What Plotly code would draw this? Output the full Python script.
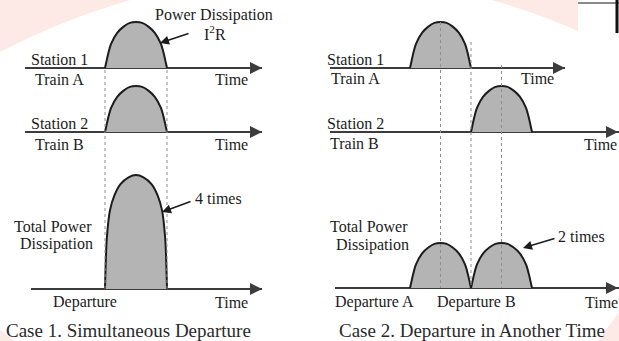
import plotly.graph_objects as go

W, H = 619, 341

# ---- data -------------------------------------------------------------
# Shape of one train's power draw I²R over its acceleration period
# (fraction of the period, fraction of the peak)
pulse_t = [0, 0.02, 0.05, 0.1, 0.2, 0.3, 0.4, 0.5, 0.6, 0.7, 0.8, 0.9, 0.95, 0.98, 1]
pulse_h = [0, 0.12, 0.3, 0.53, 0.77, 0.9, 0.98, 1, 0.98, 0.9, 0.77, 0.53, 0.3, 0.12, 0]

# Shape of the combined draw when both trains accelerate together
combined_t = [0, 0.01, 0.03, 0.08, 0.15, 0.25, 0.38, 0.5, 0.62, 0.75, 0.85, 0.92, 0.97, 0.99, 1]
combined_h = [0, 0.2, 0.45, 0.69, 0.82, 0.92, 0.98, 1, 0.98, 0.92, 0.82, 0.69, 0.45, 0.2, 0]

# Departure times (in acceleration periods) of Train A and Train B
case1_departures = [0, 0]
case2_departures = [0, 1]

single_peak = 1          # I²R of one train
case1_total_peak = 4     # (2I)²R when both draw current at once
case2_total_peaks = [1, 1]

# ---- geometry ---------------------------------------------------------
FONT = "Liberation Serif"
TXT = "#1c1c1c"
AXIS = "#3c3c3c"
EDGE = "#1c1c1c"
FILL = "#b4b4b4"

def px(x):
    return x / W

def py(y):
    return 1 - y / H

# time origin pixel and pixels per period for each case
cases = {1: (105, 62.0), 2: (410, 61.0)}

# panel: (case, line start, arrow tip, baseline, top, pixels per unit power)
panels = [
    (1, 25, 262, 68, 12, 46),
    (1, 25, 262, 132, 78, 46),
    (1, 31, 262, 289, 165, 28.5),
    (2, 330, 565, 68, 12, 46),
    (2, 330, 623, 132, 78, 46),
    (2, 335, 623, 288, 228, 45),
]

fig = go.Figure()
layout = dict(
    width=W, height=H, margin=dict(l=0, r=0, t=0, b=0),
    paper_bgcolor="white", plot_bgcolor="rgba(0,0,0,0)", showlegend=False,
)

pad = 4
for i, (case, x_start, tip, base, top, k) in enumerate(panels, start=1):
    x0, w = cases[case]
    x_end = min(tip, W)
    sfx = "" if i == 1 else str(i)
    layout["xaxis" + sfx] = dict(
        domain=[px(x_start), px(x_end)],
        range=[(x_start - x0) / w, (x_end - x0) / w],
        anchor="y" + sfx, visible=False, fixedrange=True,
    )
    layout["yaxis" + sfx] = dict(
        domain=[py(base + pad), py(top)],
        range=[-pad / k, (base - top) / k],
        anchor="x" + sfx, showgrid=False, showticklabels=False,
        showline=False, ticks="", zeroline=True,
        zerolinecolor=AXIS, zerolinewidth=2, fixedrange=True,
    )

def add_pulse(axis_i, start, peak, shape_t, shape_h):
    sfx = "" if axis_i == 1 else str(axis_i)
    fig.add_trace(go.Scatter(
        x=[start + t for t in shape_t],
        y=[peak * h for h in shape_h],
        mode="lines", line=dict(color=EDGE, width=2, shape="spline", smoothing=0.9),
        fill="tozeroy", fillcolor=FILL,
        xaxis="x" + sfx, yaxis="y" + sfx, hoverinfo="skip",
    ))

# Case 1: simultaneous departure
add_pulse(1, case1_departures[0], single_peak, pulse_t, pulse_h)
add_pulse(2, case1_departures[1], single_peak, pulse_t, pulse_h)
add_pulse(3, case1_departures[0], case1_total_peak, combined_t, combined_h)

# Case 2: departure at another time
add_pulse(4, case2_departures[0], single_peak, pulse_t, pulse_h)
add_pulse(5, case2_departures[1], single_peak, pulse_t, pulse_h)
for dep, pk in zip(case2_departures, case2_total_peaks):
    add_pulse(6, dep, pk, pulse_t, pulse_h)

shapes = []
# faint background mark
shapes.append(dict(type="rect", xref="paper", yref="paper", x0=0, x1=px(578), y0=0, y1=1,
                   fillcolor="#fde9e6", line=dict(width=0), layer="below"))
cx, cy, r = 311, 641, 666
shapes.append(dict(type="circle", xref="paper", yref="paper",
                   x0=px(cx - r), x1=px(cx + r), y0=py(cy + r), y1=py(cy - r),
                   fillcolor="white", line=dict(width=0), layer="below"))
shapes.append(dict(type="path", xref="paper", yref="paper",
                   path=f"M 0,{py(330)} L {px(14)},{py(341)} L 0,{py(341)} Z",
                   fillcolor="#fde9e6", line=dict(width=0), layer="below"))
shapes.append(dict(type="path", xref="paper", yref="paper",
                   path=f"M 1,{py(312)} L 1,{py(341)} L {px(598)},{py(341)} Z",
                   fillcolor="#fde9e6", line=dict(width=0), layer="below"))
shapes.append(dict(type="line", xref="paper", yref="paper", x0=px(578), x1=1, y0=py(3), y1=py(3),
                   line=dict(color="#8a8a8a", width=2)))
shapes.append(dict(type="line", xref="paper", yref="paper", x0=px(617), x1=px(617), y0=py(0), y1=py(33),
                   line=dict(color="#111111", width=3)))

# dotted guides linking the time axes
def guide(xref, t, y_top, y_bot):
    shapes.append(dict(type="line", xref=xref, yref="paper", x0=t, x1=t,
                       y0=py(y_top), y1=py(y_bot),
                       line=dict(color="#8f8f8f", width=1, dash="dot"), layer="above"))

guide("x", case1_departures[0], 70, 289)
guide("x", case1_departures[0] + 1, 70, 289)
guide("x4", case2_departures[0] + 0.5, 22, 288)
guide("x4", case2_departures[1], 42, 288)
guide("x4", case2_departures[1] + 0.5, 65, 288)
layout["shapes"] = shapes

ann = []

def label(text, x, y, size=16, color=TXT):
    ann.append(dict(text=text, x=px(x), y=py(y), xref="paper", yref="paper",
                    showarrow=False, xanchor="center", yanchor="middle",
                    font=dict(family=FONT, size=size, color=color)))

def pointer(x, y, dx, dy, width=1.5, size=1.2, color=EDGE):
    ann.append(dict(text="", x=px(x), y=py(y), xref="paper", yref="paper",
                    ax=dx, ay=dy, axref="pixel", ayref="pixel", showarrow=True,
                    arrowhead=2, arrowsize=size, arrowwidth=width, arrowcolor=color))

# arrow heads on the time axes
for (case, x_start, tip, base, top, k) in panels:
    pointer(tip, base, -14, 0, width=2, size=1.2, color=AXIS)

# Case 1 labels
label("Station 1", 59, 59)
label("Train A", 59, 79)
label("Time", 231, 79)
label("Power Dissipation", 214, 15)
label("I<sup>2</sup>R", 215, 33)
pointer(160, 43, 30, -10)
label("Station 2", 59, 123)
label("Train B", 59, 144)
label("Time", 231, 144)
label("Total Power", 53, 226)
label("Dissipation", 56, 244)
label("4 times", 218, 198)
pointer(162, 212, 30, -11)
label("Departure", 85, 302)
label("Time", 231, 302)
label("Case 1. Simultaneous Departure", 128, 330, size=19, color="#2a2a2a")

# Case 2 labels
label("Station 1", 355, 59)
label("Train A", 355, 78)
label("Time", 537, 78)
label("Station 2", 355, 123)
label("Train B", 354, 143)
label("Time", 600, 144)
label("Total Power", 369, 226)
label("Dissipation", 372, 245)
label("2 times", 581, 236)
pointer(523, 248, 33, -10)
label("Departure A", 374, 302)
label("Departure B", 476, 302)
label("Time", 601, 302)
label("Case 2. Departure in Another Time", 472, 330, size=19, color="#2a2a2a")

layout["annotations"] = ann
fig.update_layout(**layout)
fig.write_html("out.html")
